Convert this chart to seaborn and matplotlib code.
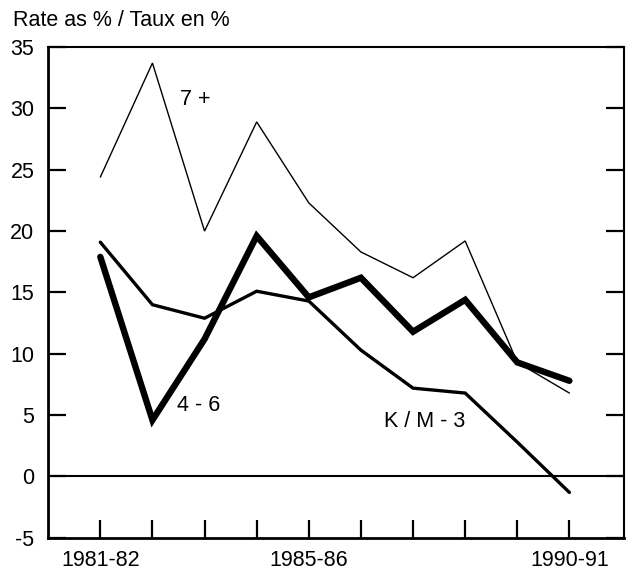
import pandas as pd
import matplotlib.pyplot as plt
import seaborn as sns

years = ["1981-82", "1982-83", "1983-84", "1984-85", "1985-86",
         "1986-87", "1987-88", "1988-89", "1989-90", "1990-91"]
shown_years = ["1981-82", "1985-86", "1990-91"]

grade_7_plus = [24.4, 33.7, 20.0, 28.9, 22.3, 18.3, 16.2, 19.2, 9.3, 6.8]
grade_4_6 = [17.9, 4.6, 11.2, 19.6, 14.6, 16.2, 11.8, 14.4, 9.3, 7.8]
grade_k_3 = [19.1, 14.0, 12.9, 15.1, 14.3, 10.3, 7.2, 6.8, 2.8, -1.3]

series = {"7 +": grade_7_plus, "4 - 6": grade_4_6, "K / M - 3": grade_k_3}
widths = {"7 +": 1.0, "4 - 6": 4.6, "K / M - 3": 2.4}

sns.set_style("ticks")
plt.rcParams["font.family"] = ["Liberation Sans", "DejaVu Sans"]
plt.rcParams["axes.unicode_minus"] = False
plt.rcParams["text.color"] = "black"
plt.rcParams["axes.edgecolor"] = "black"
plt.rcParams["xtick.color"] = "black"
plt.rcParams["ytick.color"] = "black"

fig = plt.figure(figsize=(6.26, 5.74), dpi=100)
ax = fig.add_axes([0.077, 0.063, 0.920, 0.855])

pos = list(range(len(years)))
for name, vals in series.items():
    df = pd.DataFrame({"x": pos, "rate": vals})
    sns.lineplot(data=df, x="x", y="rate", ax=ax, color="black",
                 linewidth=widths[name], solid_joinstyle="miter")

ax.axhline(0, color="black", linewidth=1.5)

ax.set_xlim(-1, 10.05)
ax.set_ylim(-5, 35)
ax.set_yticks(range(-5, 36, 5))
ax.set_xticks(pos)
ax.set_xticklabels([y if y in shown_years else "" for y in years])
ax.set_xlabel("")
ax.set_ylabel("")

ax.tick_params(axis="y", direction="in", length=13, width=1.6, left=True,
               right=True, labelsize=15.5, pad=10, labelcolor="black")
ax.tick_params(axis="x", direction="in", length=13, width=1.6,
               labelsize=15.5, pad=9, labelcolor="black")
for s in ax.spines.values():
    s.set_linewidth(1.5)
    s.set_color("black")
ax.spines["left"].set_linewidth(2)
ax.spines["bottom"].set_linewidth(2)

ax.text(1.52, 30.7, "7 +", fontsize=15.5, ha="left", va="center")
ax.text(1.48, 5.8, "4 - 6", fontsize=15.5, ha="left", va="center")
ax.text(5.44, 4.5, "K / M - 3", fontsize=15.5, ha="left", va="center")

fig.text(0.02, 0.965, "Rate as % / Taux en %", fontsize=15.5,
         ha="left", va="center")

fig.savefig("out.png", dpi=100)
